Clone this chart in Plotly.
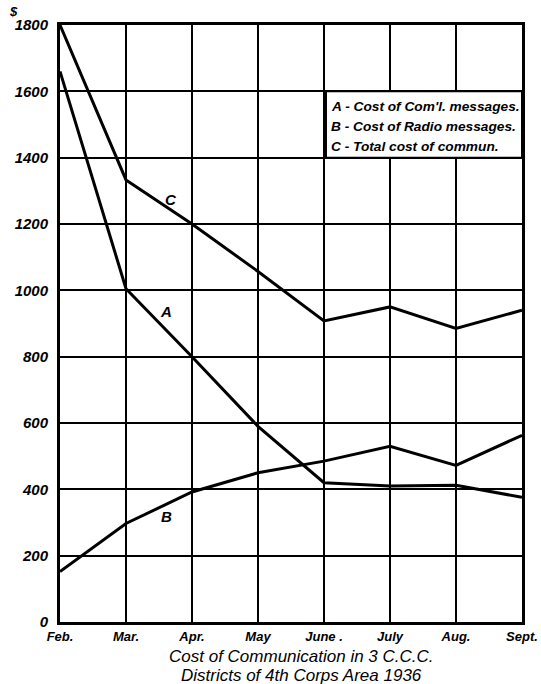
import plotly.graph_objects as go

months = ["Feb.", "Mar.", "Apr.", "May", "June .", "July", "Aug.", "Sept."]
cost_comm_A = [1660, 1005, 800, 590, 420, 410, 412, 376]
cost_radio_B = [152, 297, 392, 450, 485, 530, 472, 563]
total_C = [1800, 1333, 1200, 1057, 908, 950, 885, 940]
y_ticks = [0, 200, 400, 600, 800, 1000, 1200, 1400, 1600, 1800]
y_labels = ["0", "200", "400", "600", "800", "1000", "1200", "1400", "1600", "1800"]
legend_lines = ["A - Cost of Com'l. messages.",
                "B - Cost of Radio messages.",
                "C - Total cost of commun."]
caption_lines = ["Cost of Communication in 3 C.C.C.",
                 "Districts of 4th Corps Area 1936"]

FONT = "Liberation Sans"
bi = dict(family=FONT, color="black", weight="bold", style="italic")

x = list(range(len(months)))
fig = go.Figure()
for ys in (cost_comm_A, cost_radio_B, total_C):
    fig.add_trace(go.Scatter(x=x, y=ys, mode="lines",
                             line=dict(color="black", width=3),
                             cliponaxis=False, showlegend=False,
                             hoverinfo="skip"))

fig.update_layout(
    width=541, height=684, autosize=False,
    margin=dict(l=60, r=19, t=25, b=62, autoexpand=False),
    paper_bgcolor="white", plot_bgcolor="white",
    showlegend=False,
)
fig.update_xaxes(range=[0, 7], tickvals=x, ticktext=months,
                 showgrid=True, gridcolor="black", gridwidth=2,
                 showline=True, linecolor="black", linewidth=3, mirror=True,
                 ticks="", zeroline=False, ticklabelstandoff=0,
                 tickfont=dict(size=13, **bi))
fig.update_yaxes(range=[0, 1800], tickvals=y_ticks, ticktext=y_labels,
                 showgrid=True, gridcolor="black", gridwidth=2,
                 showline=True, linecolor="black", linewidth=3, mirror=True,
                 ticks="", zeroline=False, ticklabelstandoff=6,
                 tickfont=dict(size=15, **bi))

# dollar sign
fig.add_annotation(xref="paper", yref="paper", x=-0.10, y=1.022, text="$",
                   showarrow=False, xanchor="center", yanchor="middle",
                   font=dict(size=13, **bi))

# legend box
fig.add_shape(type="rect", xref="x", yref="y", x0=4.03, x1=7, y0=1400, y1=1600,
              fillcolor="white", line=dict(color="black", width=2), layer="above")
for i, t in enumerate(legend_lines):
    fig.add_annotation(xref="x", yref="y", x=4.08, y=1553 - i * 60, text=t,
                       showarrow=False, xanchor="left", yanchor="middle",
                       font=dict(size=13.7, **bi))

# curve labels
for lab, lx, ly in (("C", 1.68, 1275), ("A", 1.6, 935), ("B", 1.62, 317)):
    fig.add_annotation(xref="x", yref="y", x=lx, y=ly, text=lab, showarrow=False,
                       font=dict(size=15, **bi))

# caption
for i, t in enumerate(caption_lines):
    fig.add_annotation(xref="paper", yref="paper", x=0.522, y=-0.057 - i * 0.0325,
                       text=t, showarrow=False, xanchor="center", yanchor="middle",
                       font=dict(family=FONT, size=17, color="black", style="italic"))

fig.write_html("out.html",
               config=dict(displayModeBar=False, responsive=False),
               post_script="document.body.style.margin='0';document.body.style.overflow='hidden';")
